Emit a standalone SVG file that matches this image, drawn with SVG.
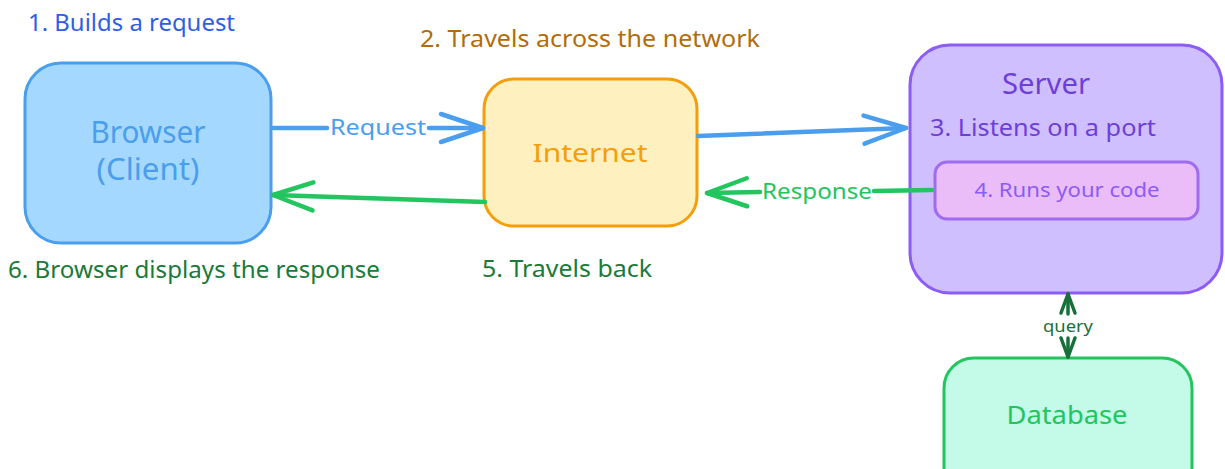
<svg xmlns="http://www.w3.org/2000/svg" width="1225" height="469" viewBox="0 0 1225 469">
<defs>
<style>
text{font-family:"Noto Sans","Open Sans",sans-serif;}
.box{stroke-width:3;stroke-linejoin:round;}
.lbl{text-anchor:middle;}
.conn{fill:none;stroke-width:4.5;stroke-linecap:round;stroke-linejoin:round;}
</style>
<marker id="hb" viewBox="-50 -20 56 40" refX="0" refY="0" markerWidth="56" markerHeight="40" markerUnits="userSpaceOnUse" orient="auto" overflow="visible">
<path d="M-42,-14 L0,0 L-42,14" fill="none" stroke="#4a9eed" stroke-width="4.5" stroke-linecap="round" stroke-linejoin="round"/>
</marker>
<marker id="hg" viewBox="-50 -20 56 40" refX="0" refY="0" markerWidth="56" markerHeight="40" markerUnits="userSpaceOnUse" orient="auto" overflow="visible">
<path d="M-40,-14 L0,0 L-40,14" fill="none" stroke="#22c55e" stroke-width="4.5" stroke-linecap="round" stroke-linejoin="round"/>
</marker>
<marker id="hq" viewBox="-24 -12 28 24" refX="0" refY="0" markerWidth="28" markerHeight="24" markerUnits="userSpaceOnUse" orient="auto-start-reverse" overflow="visible">
<path d="M-19,-7 L0,0 L-19,7" fill="none" stroke="#17703a" stroke-width="3.5" stroke-linecap="round" stroke-linejoin="round"/>
</marker>
</defs>
<rect width="1225" height="469" fill="#ffffff"/>

<g id="step-labels">
<text x="28" y="31" font-size="23" fill="#2f5fe0" textLength="207" lengthAdjust="spacingAndGlyphs">1. Builds a request</text>
<text x="420" y="47" font-size="23" fill="#b06d0c" textLength="340" lengthAdjust="spacingAndGlyphs">2. Travels across the network</text>
<text x="8" y="278" font-size="23" fill="#1a7a3a" textLength="372" lengthAdjust="spacingAndGlyphs">6. Browser displays the response</text>
<text x="482" y="277" font-size="23" fill="#1a7a3a" textLength="170" lengthAdjust="spacingAndGlyphs">5. Travels back</text>
</g>

<g id="browser">
<rect class="box" x="25" y="63" width="246" height="180" rx="36" fill="#a5d8ff" stroke="#4a9eed"/>
<text class="lbl" x="148" y="143" font-size="30" fill="#4a9eed" textLength="115" lengthAdjust="spacingAndGlyphs">Browser</text>
<text class="lbl" x="148" y="180" font-size="30" fill="#4a9eed" textLength="103" lengthAdjust="spacingAndGlyphs">(Client)</text>
</g>

<g id="internet">
<rect class="box" x="484" y="79" width="213" height="147" rx="30" fill="#fff0bf" stroke="#f59e0b"/>
<text class="lbl" x="590" y="162" font-size="26" fill="#f59e0b" textLength="115" lengthAdjust="spacingAndGlyphs">Internet</text>
</g>

<g id="server">
<rect class="box" x="910" y="45" width="312" height="248" rx="40" fill="#d0bfff" stroke="#8b5cf6"/>
<text class="lbl" x="1046" y="94" font-size="29" fill="#6d3fd9" textLength="88" lengthAdjust="spacingAndGlyphs">Server</text>
<text x="930" y="136" font-size="23" fill="#6d3fd9" textLength="226" lengthAdjust="spacingAndGlyphs">3. Listens on a port</text>
</g>

<g id="runs-code">
<rect class="box" x="935" y="162" width="263" height="57" rx="12" fill="#eabcf8" stroke="#9f6bf0" stroke-width="2.5"/>
<text class="lbl" x="1067" y="197" font-size="20" fill="#8b5cf6" textLength="185" lengthAdjust="spacingAndGlyphs">4. Runs your code</text>
</g>

<g id="database">
<rect class="box" x="944" y="358" width="248" height="140" rx="30" fill="#c3fae8" stroke="#22c55e"/>
<text class="lbl" x="1067" y="424" font-size="26" fill="#22c55e" textLength="121" lengthAdjust="spacingAndGlyphs">Database</text>
</g>

<g id="connectors">
<path class="conn" stroke="#4a9eed" d="M273,128 L327,128"/>
<path class="conn" stroke="#4a9eed" d="M429,128 L483,128" marker-end="url(#hb)"/>
<text class="lbl" x="378" y="135" font-size="22" fill="#4a9eed" textLength="96" lengthAdjust="spacingAndGlyphs">Request</text>

<path class="conn" stroke="#4a9eed" d="M698,136 L906,128" marker-end="url(#hb)"/>

<path class="conn" stroke="#22c55e" d="M932,190 L874,191"/>
<path class="conn" stroke="#22c55e" d="M760,192 L707,193" marker-end="url(#hg)"/>
<text class="lbl" x="817" y="199" font-size="22" fill="#22c55e" textLength="110" lengthAdjust="spacingAndGlyphs">Response</text>

<path class="conn" stroke="#22c55e" d="M485,202 L273,195" marker-end="url(#hg)"/>

<path fill="none" stroke="#17703a" stroke-width="3.5" stroke-linecap="round" d="M1068,294 L1068,314" marker-start="url(#hq)"/>
<path fill="none" stroke="#17703a" stroke-width="3.5" stroke-linecap="round" d="M1068,338 L1068,357" marker-end="url(#hq)"/>
<text class="lbl" x="1068" y="332" font-size="17" fill="#17703a" textLength="50" lengthAdjust="spacingAndGlyphs">query</text>
</g>
</svg>
